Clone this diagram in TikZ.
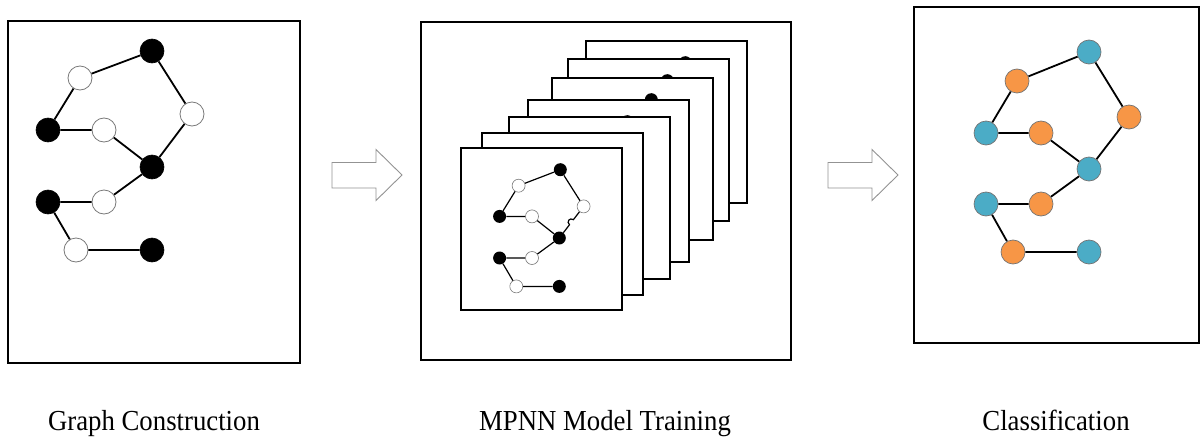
\documentclass[tikz,border=0pt]{standalone}
\usepackage{fontspec}
\setmainfont{Liberation Serif}
\usetikzlibrary{calc}
\definecolor{cblue}{HTML}{4BACC6}
\definecolor{corange}{HTML}{F79646}
\definecolor{ringgray}{HTML}{7A7A7A}
\tikzset{
  panel/.style={draw=black, line width=1.5pt},
  bignode/.style={circle, minimum size=24pt, inner sep=0pt},
  bk/.style={bignode, fill=black, draw=black, line width=0.6pt},
  wt/.style={bignode, fill=white, draw=ringgray, line width=0.8pt},
  bln/.style={bignode, fill=cblue, draw=black!55, line width=0.7pt},
  orn/.style={bignode, fill=corange, draw=black!55, line width=0.7pt},
  edge/.style={line width=1.8pt},
  sheet/.style={draw=black, fill=white, line width=1.3pt},
  smallnode/.style={circle, minimum size=13pt, inner sep=0pt},
  sbk/.style={smallnode, fill=black},
  swt/.style={smallnode, fill=white, draw=ringgray, line width=0.6pt},
  sedge/.style={line width=1.2pt},
  blockarrow/.style={draw=gray!85, line width=0.9pt, fill=white, line join=miter},
  caption/.style={font=\fontsize{29}{29}\selectfont, anchor=base}
}
\newcommand{\condensed}[1]{\scalebox{0.923}[1]{#1}}
\begin{document}
\begin{tikzpicture}[x=1pt,y=-1pt]
\useasboundingbox (0,0) rectangle (1201,436);

% ---------- Panel 1 ----------
\draw[panel] (8,21) rectangle (300,363);
\node[bk] (a1) at (152,51) {};
\node[wt] (a2) at (80,78) {};
\node[wt] (a3) at (192,114) {};
\node[bk] (a4) at (48,130) {};
\node[wt] (a5) at (104,130) {};
\node[bk] (a6) at (152,167) {};
\node[bk] (a7) at (48,202) {};
\node[wt] (a8) at (104,202) {};
\node[wt] (a9) at (76,250) {};
\node[bk] (a10) at (152,250) {};
\draw[edge] (a4)--(a2) (a2)--(a1) (a1)--(a3) (a3)--(a6) (a4)--(a5) (a5)--(a6)
            (a6)--(a8) (a8)--(a7) (a7)--(a9) (a9)--(a10);

% ---------- Arrow 1 ----------
\draw[blockarrow] (332,162.5) -- (376,162.5) -- (376,149.5) -- (402,175) -- (376,200.5) -- (376,188) -- (332,188) -- cycle;

% ---------- Panel 2 ----------
\draw[panel] (421,22) rectangle (791,360);
\foreach \i/\x/\y in {7/586/41, 6/568/59, 5/552/78, 4/528/100, 3/509/117, 2/482/133}{
  \draw[sheet] (\x,\y) rectangle ++(161,162);
  \node[sbk] (s\i n1) at (\x+99.3,\y+21.7) {};
  \node[swt] (s\i n2) at (\x+57.6,\y+37.7) {};
  \node[swt] (s\i n3) at (\x+122.6,\y+58.4) {};
  \node[sbk] (s\i n4) at (\x+38.6,\y+68.4) {};
  \node[swt] (s\i n5) at (\x+71,\y+68.4) {};
  \node[sbk] (s\i n6) at (\x+98.3,\y+90) {};
  \node[sbk] (s\i n7) at (\x+38.6,\y+110) {};
  \node[swt] (s\i n8) at (\x+71,\y+110) {};
  \node[swt] (s\i n9) at (\x+55.3,\y+138.4) {};
  \node[sbk] (s\i n10) at (\x+98.3,\y+138.4) {};
  \draw[sedge] (s\i n4)--(s\i n2) (s\i n2)--(s\i n1) (s\i n1)--(s\i n3) (s\i n3)--(s\i n6)
     (s\i n4)--(s\i n5) (s\i n5)--(s\i n6) (s\i n6)--(s\i n8) (s\i n8)--(s\i n7)
     (s\i n7)--(s\i n9) (s\i n9)--(s\i n10);
}
% front sheet
\draw[sheet] (461,148) rectangle ++(161,162);
\node[sbk] (f1) at (560.3,169.7) {};
\node[swt] (f2) at (518.6,185.7) {};
\node[swt] (f3) at (583.6,206.4) {};
\node[sbk] (f4) at (499.6,216.4) {};
\node[swt] (f5) at (532,216.4) {};
\node[sbk] (f6) at (559.3,238) {};
\node[sbk] (f7) at (499.6,258) {};
\node[swt] (f8) at (532,258) {};
\node[swt] (f9) at (516.3,286.4) {};
\node[sbk] (f10) at (559.3,286.4) {};
\coordinate (h1) at ($(f3)!0.42!(f6)$);
\coordinate (h2) at ($(f3)!0.58!(f6)$);
\draw[sedge] (f4)--(f2) (f2)--(f1) (f1)--(f3)
     (f4)--(f5) (f5)--(f6) (f6)--(f8) (f8)--(f7) (f7)--(f9) (f9)--(f10);
\draw[sedge] (f3) -- (h1) .. controls ($(h1)!4.5pt!-90:(h2)$) and ($(h2)!4.5pt!90:(h1)$) .. (h2) -- (f6);

% ---------- Arrow 2 ----------
\draw[blockarrow] (828,162.5) -- (872,162.5) -- (872,149.5) -- (898,175) -- (872,200.5) -- (872,188) -- (828,188) -- cycle;

% ---------- Panel 3 ----------
\draw[panel] (914,7) rectangle (1199,343);
\node[bln] (c1) at (1089,52) {};
\node[orn] (c2) at (1017,81) {};
\node[orn] (c3) at (1129,117) {};
\node[bln] (c4) at (986,133) {};
\node[orn] (c5) at (1041,133) {};
\node[bln] (c6) at (1089,169) {};
\node[bln] (c7) at (986,204) {};
\node[orn] (c8) at (1041,204) {};
\node[orn] (c9) at (1013,252) {};
\node[bln] (c10) at (1089,252) {};
\draw[edge] (c4)--(c2) (c2)--(c1) (c1)--(c3) (c3)--(c6) (c4)--(c5) (c5)--(c6)
            (c6)--(c8) (c8)--(c7) (c7)--(c9) (c9)--(c10);

% ---------- Captions ----------
\node[caption] (l1) at (154,430) {\condensed{Graph Construction}};
\node[caption] (l2) at (605,430) {\condensed{MPNN Model Training}};
\node[caption] (l3) at (1056,430) {\condensed{Classification}};
\end{tikzpicture}
\end{document}
